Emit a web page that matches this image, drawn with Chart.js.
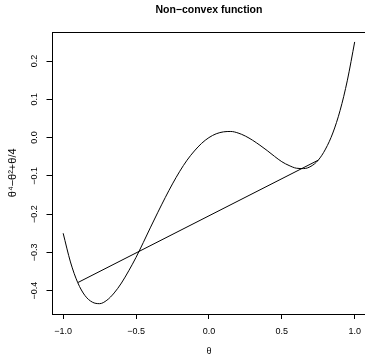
<!DOCTYPE html>
<html>
<head>
<meta charset="utf-8">
<script src="https://cdn.jsdelivr.net/npm/chart.js@4/dist/chart.umd.min.js"></script>
<style>
  html, body { margin: 0; padding: 0; background: #fff; overflow: hidden; }
  #wrap { position: relative; width: 368px; height: 358px; }
</style>
</head>
<body>
<div id="wrap"><canvas id="plot"></canvas></div>
<script>
// theta values and f(theta)
const thetas = [-1, -0.95, -0.9, -0.85, -0.8, -0.75, -0.7, -0.65, -0.6, -0.55, -0.5,
  -0.45, -0.4, -0.35, -0.3, -0.25, -0.2, -0.15, -0.1, -0.05, 0,
  0.05, 0.1, 0.15, 0.2, 0.25, 0.3, 0.35, 0.4, 0.45, 0.5,
  0.55, 0.6, 0.65, 0.7, 0.75, 0.8, 0.85, 0.9, 0.95, 1];
const fValues = [-0.25, -0.325, -0.379, -0.413, -0.430, -0.434, -0.425, -0.406, -0.380, -0.348, -0.313,
  -0.274, -0.234, -0.195, -0.157, -0.121, -0.088, -0.059, -0.035, -0.015, 0,
  0.010, 0.015, 0.016, 0.012, 0.004, -0.007, -0.020, -0.034, -0.049, -0.063,
  -0.073, -0.080, -0.081, -0.075, -0.059, -0.030, 0.012, 0.071, 0.150, 0.25];

// chord between two points of the curve
const chordX = [-0.9, 0.75];
const chordY = [-0.379, -0.059];

const xTicks = [-1, -0.5, 0, 0.5, 1];
const yTicks = [-0.4, -0.3, -0.2, -0.1, 0, 0.1, 0.2];

const FONT = "'Liberation Sans', Arial, Helvetica, sans-serif";
const fmt = v => (v < 0 ? "\u2212" : "") + Math.abs(v).toFixed(1);

const boxPlugin = {
  id: "box",
  afterDraw(chart) {
    const { ctx, chartArea: a } = chart;
    ctx.save();
    ctx.strokeStyle = "#000";
    ctx.lineWidth = 1;
    ctx.strokeRect(Math.round(a.left) + 0.5, Math.round(a.top) + 0.5,
      Math.round(a.right - a.left), Math.round(a.bottom - a.top));
    ctx.restore();
  }
};

new Chart(document.getElementById("plot"), {
  type: "scatter",
  data: {
    datasets: [
      {
        data: thetas.map((t, i) => ({ x: t, y: fValues[i] })),
        showLine: true,
        borderColor: "#000",
        borderWidth: 1,
        pointRadius: 0,
        cubicInterpolationMode: "monotone",
      },
      {
        data: chordX.map((t, i) => ({ x: t, y: chordY[i] })),
        showLine: true,
        borderColor: "#000",
        borderWidth: 1,
        pointRadius: 0,
      },
    ],
  },
  options: {
    responsive: true,
    maintainAspectRatio: false,
    animation: false,
    layout: { padding: 0 },
    plugins: {
      legend: { display: false },
      tooltip: { enabled: false },
      title: {
        display: true,
        text: "Non\u2212convex function",
        fullSize: false,
        color: "#000",
        font: { family: FONT, size: 10.5, weight: "bold" },
        padding: { top: 4, bottom: 15 },
      },
    },
    scales: {
      x: {
        type: "linear",
        min: -1.08,
        max: 1.08,
        afterBuildTicks: s => { s.ticks = xTicks.map(v => ({ value: v })); },
        afterFit: s => { s.height = 44; },
        border: { display: false },
        grid: { drawOnChartArea: false, tickLength: 5, color: "#000" },
        ticks: {
          color: "#000",
          padding: 7,
          maxRotation: 0,
          font: { family: FONT, size: 9 },
          callback: v => fmt(v),
        },
        title: {
          display: true,
          text: "\u03b8",
          color: "#000",
          font: { family: FONT, size: 9 },
          padding: { top: 0, bottom: 1 },
        },
      },
      y: {
        type: "linear",
        min: -0.461,
        max: 0.277,
        afterBuildTicks: s => { s.ticks = yTicks.map(v => ({ value: v })); },
        afterFit: s => { s.width = 51.5; },
        border: { display: false },
        grid: { drawOnChartArea: false, tickLength: 5, color: "#000" },
        ticks: {
          color: "#000",
          padding: 3,
          minRotation: 90,
          maxRotation: 90,
          crossAlign: "center",
          font: { family: FONT, size: 9 },
          callback: v => fmt(v),
        },
        title: {
          display: true,
          text: "\u03b8\u2074\u2212\u03b8\u00b2+\u03b8/4",
          color: "#000",
          font: { family: FONT, size: 11 },
          padding: { top: 6, bottom: 0 },
        },
      },
    },
  },
  plugins: [boxPlugin],
});
</script>
</body>
</html>
